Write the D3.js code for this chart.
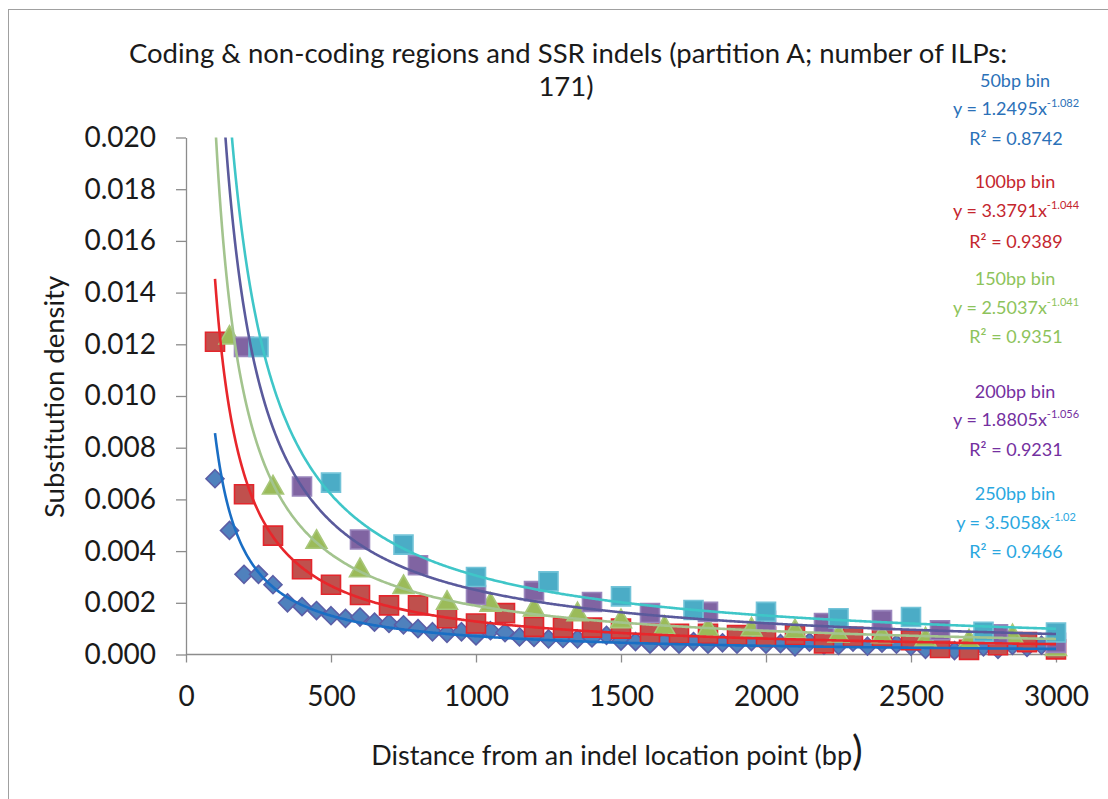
<!DOCTYPE html>
<html><head><meta charset="utf-8">
<script src="https://cdn.jsdelivr.net/npm/d3@7"></script>
<style>
body{margin:0;background:#fff;}
svg{display:block;font-family:Lato,"Open Sans",sans-serif;}
</style></head>
<body><svg id="c" width="1108" height="799"></svg>
<script>
// ---- data ----
const dist50 = [100,150,200,250,300,350,400,450,500,550,600,650,700,750,800,850,900,950,1000,1050,1100,1150,1200,1250,1300,1350,1400,1450,1500,1550,1600,1650,1700,1750,1800,1850,1900,1950,2000,2050,2100,2150,2200,2250,2300,2350,2400,2450,2500,2550,2600,2650,2700,2750,2800,2850,2900,2950,3000];
const dens50 = [0.0068,0.0048,0.0031,0.0031,0.0027,0.0020,0.00185,0.0017,0.0015,0.0014,0.00145,0.00125,0.0012,0.00115,0.0010,0.00088,0.00082,0.00088,0.00072,0.00092,0.00085,0.00068,0.00066,0.0006,0.00062,0.0006,0.00064,0.00074,0.00052,0.0005,0.0004,0.00052,0.0004,0.0005,0.0004,0.00045,0.0004,0.0005,0.0004,0.00042,0.0003,0.00048,0.00036,0.00035,0.00048,0.00032,0.00044,0.0004,0.00032,0.0002,0.00042,0.00015,0.00025,0.0003,0.0002,0.00035,0.00028,0.00036,0.00018];
const dist100 = [100,200,300,400,500,600,700,800,900,1000,1100,1200,1300,1400,1500,1600,1700,1800,1900,2000,2100,2200,2300,2400,2500,2600,2700,2800,2900,3000];
const dens100 = [0.0121,0.0062,0.0046,0.0033,0.0027,0.0023,0.0019,0.0019,0.0014,0.0012,0.0016,0.00107,0.00104,0.00104,0.0010,0.00082,0.0008,0.0008,0.00075,0.00068,0.00075,0.00043,0.00068,0.00068,0.00055,0.00025,0.00018,0.00036,0.00048,0.0002];
const dist150 = [150,300,450,600,750,900,1050,1200,1350,1500,1650,1800,1950,2100,2250,2400,2550,2700,2850,3000];
const dens150 = [0.0123,0.0065,0.0044,0.0033,0.00265,0.00204,0.00197,0.00178,0.0016,0.00133,0.00108,0.00101,0.00101,0.00094,0.00078,0.00075,0.00062,0.00055,0.00075,0.00025];
const dist200 = [200,400,600,800,1000,1200,1400,1600,1800,2000,2200,2400,2600,2800,3000];
const dens200 = [0.0119,0.0065,0.00445,0.00345,0.0023,0.00245,0.00203,0.0016,0.00165,0.0013,0.00122,0.00133,0.00094,0.00078,0.00045];
const dist250 = [250,500,750,1000,1250,1500,1750,2000,2250,2500,2750,3000];
const dens250 = [0.0119,0.00665,0.00425,0.003,0.00283,0.00225,0.00172,0.00165,0.0014,0.00145,0.00088,0.00085];

// power-law trend lines as drawn (coefficient, exponent)
const trendCoef = [1.2495, 1.8805, 2.5037, 3.3791, 3.5058];
const trendExp  = [-1.082, -1.056, -1.041, -1.044, -1.02];
const trendRange = [100, 3000];

// labels
const binNames = ["50bp bin","100bp bin","150bp bin","200bp bin","250bp bin"];
const eqCoefText = ["1.2495","3.3791","2.5037","1.8805","3.5058"];
const eqExpText = ["-1.082","-1.044","-1.041","-1.056","-1.02"];
const r2Text = ["0.8742","0.9389","0.9351","0.9231","0.9466"];
const xTicks = [0,500,1000,1500,2000,2500,3000];
const yTicks = [0,0.002,0.004,0.006,0.008,0.010,0.012,0.014,0.016,0.018,0.020];
const titleLines = ["Coding & non-coding regions and SSR indels (partition A; number of ILPs:","171)"];
const xTitle = "Distance from an indel location point (bp";
const yTitle = "Substitution density";

// ---- drawing ----
const svg = d3.select("#c");
const x = d3.scaleLinear().domain([0,3000]).range([186,1056]);
const y = d3.scaleLinear().domain([0,0.02]).range([654.5,137.5]);

svg.append("rect").attr("x",8.5).attr("y",9.5).attr("width",1200).attr("height",1000)
  .attr("fill","none").attr("stroke","#a0a0a0").attr("stroke-width",1);

svg.append("defs").append("clipPath").attr("id","plot").append("rect")
  .attr("x",186).attr("y",137.5).attr("width",880).attr("height",517);

// axes
const gy = svg.append("g").attr("transform","translate(186,0)")
  .call(d3.axisLeft(y).tickValues(yTicks).tickFormat(d3.format(".3f")).tickSize(10).tickPadding(20).tickSizeOuter(0));
const gx = svg.append("g").attr("transform","translate(0,654.5)")
  .call(d3.axisBottom(x).tickValues(xTicks).tickFormat(d3.format("d")).tickSize(8).tickPadding(24).tickSizeOuter(0));
[gx,gy].forEach(g=>{
  g.select(".domain").attr("stroke","#8c8c8c").attr("stroke-width",1.3);
  g.selectAll(".tick line").attr("stroke","#8c8c8c").attr("stroke-width",1.3);
  g.selectAll(".tick text").attr("fill","#1a1a1a").style("font-size","28px").style("font-family","Lato,sans-serif");
});
gx.select(".domain").attr("d","M186,0H1056");

// markers
const seriesSpec = [
  {xs:dist50, ys:dens50, shape:"diamond", fill:"#4f81bd", stroke:"#5b5ea6"},
  {xs:dist100, ys:dens100, shape:"square", fill:"#c0504d", stroke:"#e3262c"},
  {xs:dist150, ys:dens150, shape:"triangle", fill:"#9bbb59", stroke:"#a8c77a"},
  {xs:dist200, ys:dens200, shape:"square", fill:"#8064a2", stroke:"#9a86bd"},
  {xs:dist250, ys:dens250, shape:"square", fill:"#4bacc6", stroke:"#72c3d8"}
];
const lineColors = ["#1a6ec4","#e8262b","#a3c48e","#5a5a9c","#3fc6c8"];

function shapePath(shape){
  if(shape==="diamond") return "M0,-9L9,0L0,9L-9,0Z";
  if(shape==="square") return "M-9.5,-9.5H9.5V9.5H-9.5Z";
  return "M0,-11L10.5,7.5H-10.5Z";
}
seriesSpec.forEach(s=>{
  svg.append("g").selectAll("path").data(s.xs.map((d,i)=>[d,s.ys[i]])).join("path")
    .attr("d",shapePath(s.shape))
    .attr("transform",d=>`translate(${x(d[0])},${y(d[1])})`)
    .attr("fill",s.fill).attr("stroke",s.stroke).attr("stroke-width",1.6);
});

// trend lines
const line = d3.line().x(d=>x(d[0])).y(d=>y(d[1]));
const gl = svg.append("g").attr("clip-path","url(#plot)");
trendCoef.forEach((c,i)=>{
  const pts = d3.range(trendRange[0], trendRange[1]+1, 4).map(v=>[v, c*Math.pow(v,trendExp[i])]);
  gl.append("path").attr("d",line(pts)).attr("fill","none").attr("stroke",lineColors[i]).attr("stroke-width",2.6);
});

// title
svg.append("text").attr("x",568).attr("y",63).attr("text-anchor","middle").attr("fill","#1a1a1a")
  .style("font-size","27.5px").text(titleLines[0]);
svg.append("text").attr("x",566).attr("y",96).attr("text-anchor","middle").attr("fill","#1a1a1a")
  .style("font-size","27.5px").text(titleLines[1]);

// axis titles
const xt = svg.append("text").attr("x",617).attr("y",765).attr("text-anchor","middle").attr("fill","#1a1a1a")
  .style("font-size","27px");
xt.append("tspan").text(xTitle);
xt.append("tspan").style("font-size","40px").text(")");
svg.append("text").attr("transform","translate(64,397) rotate(-90)").attr("text-anchor","middle")
  .attr("fill","#1a1a1a").style("font-size","27.5px").text(yTitle);

// fit annotations
const labelColors = ["#2b71b8","#c4262e","#8dc35b","#7430a0","#2aa7df"];
const labelY = [[87,115,145],[188,217,248],[285,314,343],[398,426,456],[500,529,558]];
binNames.forEach((n,i)=>{
  const g = svg.append("g").attr("fill",labelColors[i]).style("font-size","18px");
  g.append("text").attr("x",1015).attr("y",labelY[i][0]).attr("text-anchor","middle").text(n);
  const t = g.append("text").attr("x",1016).attr("y",labelY[i][1]).attr("text-anchor","middle");
  t.append("tspan").text("y = "+eqCoefText[i]+"x");
  t.append("tspan").attr("dy",-8).style("font-size","11px").text(eqExpText[i]);
  g.append("text").attr("x",1016).attr("y",labelY[i][2]).attr("text-anchor","middle").text("R² = "+r2Text[i]);
});
</script></body></html>
